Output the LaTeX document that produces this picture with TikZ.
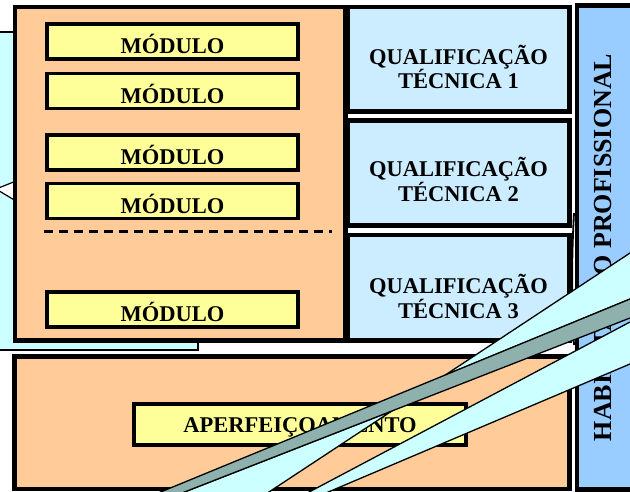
\documentclass[tikz,border=0pt]{standalone}
\usepackage{fontspec}
\setmainfont{Liberation Serif}
\definecolor{orangefill}{HTML}{FFCC99}
\definecolor{modyellow}{HTML}{FFFF99}
\definecolor{qualblue}{HTML}{CCECFF}
\definecolor{colblue}{HTML}{99CCFF}
\definecolor{cyanfill}{HTML}{CCFFFF}
\definecolor{stripegray}{RGB}{143,177,174}
\newcommand\lblfont{\bfseries\fontsize{22.5}{25}\selectfont}
\begin{document}
\begin{tikzpicture}[x=1pt,y=-1pt,
  container/.style={draw=black, line width=4.5pt},
  modbox/.style={draw=black, fill=modyellow, line width=3.5pt, minimum width=251pt,
    minimum height=35pt, inner sep=0pt, font=\lblfont, text height=24.5pt, text depth=0pt},
  apbox/.style={draw=black, fill=modyellow, line width=3.5pt, minimum width=332pt,
    minimum height=41pt, inner sep=0pt, font=\lblfont, text height=16.4pt, text depth=0pt},
  quallbl/.style={font=\lblfont, anchor=base, inner sep=0pt},
  stripe/.style={draw=black, line width=1.3pt, line join=miter}
]
\useasboundingbox (0,0) rectangle (630,491);
\clip (0,0) rectangle (630,491);
\fill[white] (0,0) rectangle (630,491);

% left cyan panel behind
\filldraw[fill=cyanfill, draw=black, line width=1.3pt] (-5,32) rectangle (198,350);
\filldraw[fill=white, draw=black, line width=1.2pt] (-4,189) -- (16,181) -- (16,201) -- cycle;

% main orange box
\filldraw[container, fill=orangefill] (15,7) rectangle (345.5,340.5);

% modules
\node[modbox] (m1) at (172.5,41.5) {MÓDULO};
\node[modbox] (m2) at (172.5,91) {MÓDULO};
\node[modbox] (m3) at (172.5,152.5) {MÓDULO};
\node[modbox] (m4) at (172.5,201) {MÓDULO};
\node[modbox] (m5) at (172.5,309.5) {MÓDULO};
\coordinate (dl) at (44,231);
\coordinate (dr) at (332,231);
\draw[line width=3pt, dash pattern=on 9pt off 6pt] (dl) -- (dr);

% qualification boxes
\filldraw[container, fill=qualblue] (347.5,7) rectangle (569.5,111.5);
\filldraw[container, fill=qualblue] (347.5,120.5) rectangle (569.5,225.5);
\filldraw[container, fill=qualblue] (347.5,235) rectangle (569.5,340.5);
\node[quallbl] (q1a) at (458.5,64) {QUALIFICAÇÃO};
\node[quallbl] (q1b) at (458.5,88) {TÉCNICA 1};
\node[quallbl] (q2a) at (458.5,176.7) {QUALIFICAÇÃO};
\node[quallbl] (q2b) at (458.5,201.7) {TÉCNICA 2};
\node[quallbl] (q3a) at (458.5,293.3) {QUALIFICAÇÃO};
\node[quallbl] (q3b) at (458.5,318.3) {TÉCNICA 3};

% curved edge in the gap
\draw[line width=1.8pt] (574,213) .. controls (571.5,260) and (571.5,300) .. (574,345);

% right column
\filldraw[container, fill=colblue] (577,5.5) rectangle (645,489.5);
\node[rotate=90, anchor=base, inner sep=0pt, font=\bfseries\fontsize{26}{28}\selectfont] (hab) at (611,247.5) {HABILITAÇÃO PROFISSIONAL};

% bottom box
\filldraw[container, fill=orangefill] (14.5,356.5) rectangle (569.5,489);
\node[apbox] (ap) at (300,424.5) {APERFEIÇOAMENTO};

% diagonal stripes
\filldraw[stripe, fill=cyanfill] (445,375.2) -- (650,239.8) -- (650,290.8) -- cycle;
\filldraw[stripe, fill=cyanfill] (392,410.9) -- (256.8,500) -- (164,500) -- cycle;
\filldraw[stripe, fill=cyanfill] (294.1,500) -- (650,311.4) -- (650,355.5) -- (309.4,500) -- cycle;
\filldraw[stripe, fill=stripegray] (141.1,500) -- (650,290.8) -- (650,310.2) -- (164,500) -- cycle;
\end{tikzpicture}
\end{document}
